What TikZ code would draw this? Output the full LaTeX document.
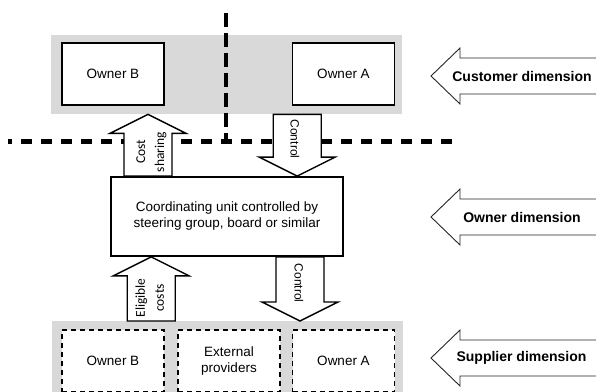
\documentclass[tikz,border=0pt]{standalone}
\usepackage{fontspec}
\setmainfont{Liberation Sans}
\newfontfamily\labelfont{Carlito}
\usetikzlibrary{calc}
\definecolor{bandgray}{HTML}{D9D9D9}

% vertical block arrow from #1 (base of the shaft) to #2 (tip)
\newcommand\blockarrow[2]{%
  \draw[flowarrow] let \p1=(#1), \p2=(#2), \p3=($(#2)!19pt!(#1)$) in
    (\x1-24pt,\y1) -- (\x1-24pt,\y3) -- (\x1-38pt,\y3) -- (\x2,\y2)
    -- (\x1+38pt,\y3) -- (\x1+24pt,\y3) -- (\x1+24pt,\y1) -- cycle;}

% left-pointing dimension arrow with its tip at #1
\newcommand\dimensionarrow[1]{%
  \draw[dimarrow] let \p1=(#1) in
    (\p1) -- (\x1+29pt,\y1+28pt) -- (\x1+29pt,\y1+18pt) -- (\x1+180pt,\y1+18pt)
    -- (\x1+180pt,\y1-18pt) -- (\x1+29pt,\y1-18pt) -- (\x1+29pt,\y1-28pt) -- cycle;}

\begin{document}
\begin{tikzpicture}[x=1pt,y=-1pt,
  band/.style={fill=bandgray,draw=none,inner sep=0pt,minimum width=351pt,anchor=north west},
  ownerbox/.style={draw,line width=1.8pt,fill=white,inner sep=0pt,minimum width=102pt,
    minimum height=62pt,align=center,font=\fontsize{13.5}{16}\selectfont},
  supplierbox/.style={ownerbox,line width=1.5pt,dash pattern=on 5pt off 4pt},
  coordbox/.style={ownerbox,minimum width=232pt,minimum height=79pt},
  partition/.style={line width=4.5pt},
  flowarrow/.style={draw,fill=white,line width=1.4pt,line join=miter},
  flowlabel/.style={font=\labelfont\fontsize{13.5}{19}\selectfont,align=center,inner sep=0pt},
  controllabel/.style={font=\fontsize{12}{14}\selectfont,inner sep=0pt},
  dimarrow/.style={draw=black!85,fill=white,line width=0.9pt},
  dimlabel/.style={font=\fontsize{14}{16}\bfseries\selectfont,inner sep=0pt}
]
\useasboundingbox (0,0) rectangle (596,391);
\clip (0,0) rectangle (596,391);

% grey bands behind the owners
\node[band,minimum height=79pt] (custBand) at (51,35) {};
\node[band,minimum height=80pt] (suppBand) at (51.5,321) {};

% customer side
\node[ownerbox] (custB) at (113,74) {Owner B};
\node[ownerbox] (custA) at (343.5,74) {Owner A};

% coordinating unit
\node[coordbox] (coord) at (227,216.5) {Coordinating unit controlled by\\steering group, board or similar};

% supplier side
\node[supplierbox] (suppB) at (113,361) {Owner B};
\node[supplierbox] (suppExt) at (229,361) {External\\providers};
\node[supplierbox] (suppA) at (343.5,361) {Owner A};

% partition lines
\coordinate (vTop) at (226,12.5);
\coordinate (hLeft) at (8,141.5);
\coordinate (hRight) at (452,141.5);
\coordinate (cross) at (vTop |- hLeft);
\draw[partition,dash pattern=on 14pt off 6pt] (vTop) -- (cross);
\draw[partition,dash pattern=on 11pt off 9pt,dash phase=7pt] (hLeft) -- (hRight);

% flows between the levels
\coordinate (csFrom) at ($(coord.north)+(-79,0)$);
\coordinate (csTo) at (csFrom |- custBand.south);
\coordinate (ctFrom) at ($(custBand.south)+(70.5,0)$);
\coordinate (ctTo) at (ctFrom |- coord.north);
\coordinate (ecFrom) at ($(suppBand.north)+(-76,0)$);
\coordinate (ecTo) at (ecFrom |- coord.south);
\coordinate (cbFrom) at ($(coord.south)+(73,0)$);
\coordinate (cbTo) at (cbFrom |- suppBand.north);

\blockarrow{csFrom}{csTo}
\blockarrow{ctFrom}{ctTo}
\blockarrow{ecFrom}{ecTo}
\blockarrow{cbFrom}{cbTo}

\node[flowlabel,rotate=90] (csLabel) at (151.3,152) {Cost\\sharing};
\node[controllabel,rotate=-90] (ctLabel) at (295,139) {Control};
\node[flowlabel,rotate=90] (ecLabel) at (149.7,298) {Eligible\\costs};
\node[controllabel,rotate=-90] (cbLabel) at (299,283) {Control};

% dimensions
\coordinate (custTip) at (431,76);
\coordinate (ownTip) at (431,217);
\coordinate (suppTip) at (431,358);
\dimensionarrow{custTip}
\dimensionarrow{ownTip}
\dimensionarrow{suppTip}
\node[dimlabel] (custDim) at (522,76) {Customer dimension};
\node[dimlabel] (ownDim) at (522,217) {Owner dimension};
\node[dimlabel] (suppDim) at (521.5,358) {Supplier dimension};
\end{tikzpicture}
\end{document}
